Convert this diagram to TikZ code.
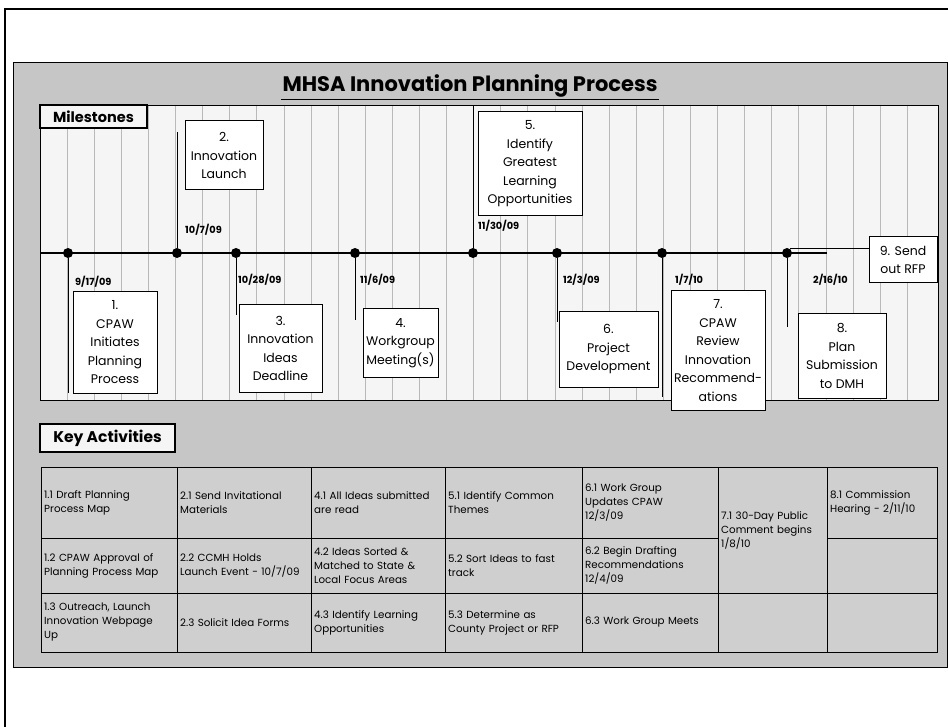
\documentclass[tikz,border=0pt]{standalone}
\usepackage{fontspec}
\setmainfont{Poppins}
\begin{document}
\begin{tikzpicture}[x=1pt,y=-1pt,
  msbox/.style={draw=black, fill=white, line width=1pt, align=center, inner sep=0pt,
    font=\fontsize{12.5}{18.5}\selectfont},
  datelbl/.style={font=\bfseries\fontsize{9.8}{11}\selectfont, anchor=west, inner sep=0pt},
  mdot/.style={circle, fill=black, minimum size=10pt, inner sep=0pt},
  stem/.style={line width=0.9pt},
  cell/.style={font=\fontsize{10.3}{14}\selectfont, align=left, anchor=west, inner sep=0pt},
  gridln/.style={gray!55, line width=0.5pt},
  tbl/.style={line width=1pt},
  hdrbox/.style={draw=black, fill=gray!8, line width=1.2pt, inner sep=0pt, anchor=center}
]
\useasboundingbox (0,0) rectangle (948,727);
% outer frame
\draw[line width=1.5pt] (5,727) -- (5,9) -- (948,9);
% panel
\fill[gray!45] (13,62) rectangle (947,667);
\draw[line width=0.8pt] (13,62) rectangle (947,667);
% milestone area
\fill[gray!8] (40,105) rectangle (938,400);
\foreach \k in {0,...,31} \draw[gridln] ({67+27.1*\k},105) -- ({67+27.1*\k},400);
\draw[line width=0.6pt] (40,105) rectangle (938,400);

% title
\node[font=\bfseries\fontsize{21}{24}\selectfont, inner sep=1pt] (title) at (470,86) {MHSA Innovation Planning Process};
\draw[line width=1.3pt] ([yshift=-1pt]title.south west) -- ([yshift=-1pt]title.south east);

% Milestones label
\node[hdrbox, minimum width=107pt, minimum height=23pt, font=\bfseries\fontsize{14.5}{16}\selectfont] (mlab) at (93.5,116.5) {Milestones};

% timeline
\coordinate (tl0) at (40,253);
\coordinate (tl1) at (827,253);
\draw[line width=2.6pt] (tl0) -- (tl1);

% markers
\node[mdot] (m1) at (68,253) {};
\node[mdot] (m2) at (177,253) {};
\node[mdot] (m3) at (236,253) {};
\node[mdot] (m4) at (355,253) {};
\node[mdot] (m5) at (473,253) {};
\node[mdot] (m6) at (557,253) {};
\node[mdot] (m7) at (662,253) {};
\node[mdot] (m8) at (787,253) {};

% stems
\coordinate (s1) at (68,393);
\coordinate (s2) at (177,132);
\coordinate (s3) at (236,315);
\coordinate (s4) at (355,320);
\coordinate (s5) at (473,105);
\coordinate (s6) at (557,322);
\coordinate (s7) at (662,397);
\coordinate (s8) at (787,327);
\foreach \i in {1,...,8} \draw[stem] (m\i) -- (s\i);

% milestone boxes
\node[msbox, minimum width=84pt, minimum height=101pt] (b1) at (115,342.5) {1.\\CPAW\\Initiates\\Planning\\Process};
\node[msbox, minimum width=78pt, minimum height=69pt] (b2) at (224,155.5) {2.\\Innovation\\Launch};
\node[msbox, minimum width=83pt, minimum height=87pt] (b3) at (280.5,348.5) {3.\\Innovation\\Ideas\\Deadline};
\node[msbox, minimum width=75pt, minimum height=68pt] (b4) at (400.5,343) {4.\\Workgroup\\Meeting(s)};
\node[msbox, minimum width=104pt, minimum height=104pt] (b5) at (530,164) {5.\\Identify\\Greatest\\Learning\\Opportunities};
\node[msbox, minimum width=99pt, minimum height=75pt] (b6) at (608.5,349.5) {6.\\Project\\Development};
\node[msbox, minimum width=94pt, minimum height=119pt] (b7) at (718,350.5) {7.\\CPAW\\Review\\Innovation\\Recommend-\\ations};
\node[msbox, minimum width=88pt, minimum height=84pt] (b8) at (842,356) {8.\\Plan\\Submission\\to DMH};
\node[msbox, minimum width=68pt, minimum height=46pt] (b9) at (903,260) {9. Send\\out RFP};

% connector to box 9
\coordinate (c9) at (790,248);
\draw[line width=0.8pt] (c9) -- (c9 -| b9.west);

% dates
\node[datelbl] (d1) at (75,282) {9/17/09};
\node[datelbl] (d2) at (185,230) {10/7/09};
\node[datelbl] (d3) at (238,280) {10/28/09};
\node[datelbl] (d4) at (360,280) {11/6/09};
\node[datelbl] (d5) at (478,226) {11/30/09};
\node[datelbl] (d6) at (563,280) {12/3/09};
\node[datelbl] (d7) at (675,280) {1/7/10};
\node[datelbl] (d8) at (813,280) {2/16/10};

% Key activities label
\node[hdrbox, minimum width=135pt, minimum height=28pt, font=\bfseries\fontsize{15.5}{18}\selectfont] (klab) at (107.5,438) {Key Activities};

% table
\fill[gray!38] (41,467) rectangle (937,652);
\draw[tbl] (41,467) rectangle (937,652);
\foreach \x in {177,311,445,582,718,827} \draw[tbl] (\x,467) -- (\x,652);
\draw[tbl] (41,538) -- (718,538);
\draw[tbl] (827,538) -- (937,538);
\draw[tbl] (41,593) -- (937,593);

% row 1
\node[cell, text width=130pt] (t11) at (44,502.5) {1.1 Draft Planning\\Process Map};
\node[cell, text width=128pt] (t21) at (180,502.5) {2.1 Send Invitational\\Materials};
\node[cell, text width=130pt] (t41) at (314,502.5) {4.1 All Ideas submitted\\are read};
\node[cell, text width=131pt] (t51) at (448,502.5) {5.1 Identify Common\\Themes};
\node[cell, text width=130pt] (t61) at (585,502.5) {6.1 Work Group\\Updates CPAW\\12/3/09};
\node[cell, text width=104pt] (t71) at (721,530) {7.1 30-Day Public\\Comment begins\\1/8/10};
\node[cell, text width=106pt] (t81) at (830,502.5) {8.1 Commission\\Hearing - 2/11/10};
% row 2
\node[cell, text width=130pt] (t12) at (44,565.5) {1.2 CPAW Approval of\\Planning Process Map};
\node[cell, text width=128pt] (t22) at (180,565.5) {2.2 CCMH Holds\\Launch Event - 10/7/09};
\node[cell, text width=130pt] (t42) at (314,565.5) {4.2 Ideas Sorted \&\\Matched to State \&\\Local Focus Areas};
\node[cell, text width=131pt] (t52) at (448,565.5) {5.2 Sort Ideas to fast\\track};
\node[cell, text width=130pt] (t62) at (585,565.5) {6.2 Begin Drafting\\Recommendations\\12/4/09};
% row 3
\node[cell, text width=130pt] (t13) at (44,622.5) {1.3 Outreach, Launch\\Innovation Webpage\\Up};
\node[cell, text width=128pt] (t23) at (180,622.5) {2.3 Solicit Idea Forms};
\node[cell, text width=130pt] (t43) at (314,622.5) {4.3 Identify Learning\\Opportunities};
\node[cell, text width=131pt] (t53) at (448,622.5) {5.3 Determine as\\County Project or RFP};
\node[cell, text width=130pt] (t63) at (585,622.5) {6.3 Work Group Meets};
\end{tikzpicture}
\end{document}
